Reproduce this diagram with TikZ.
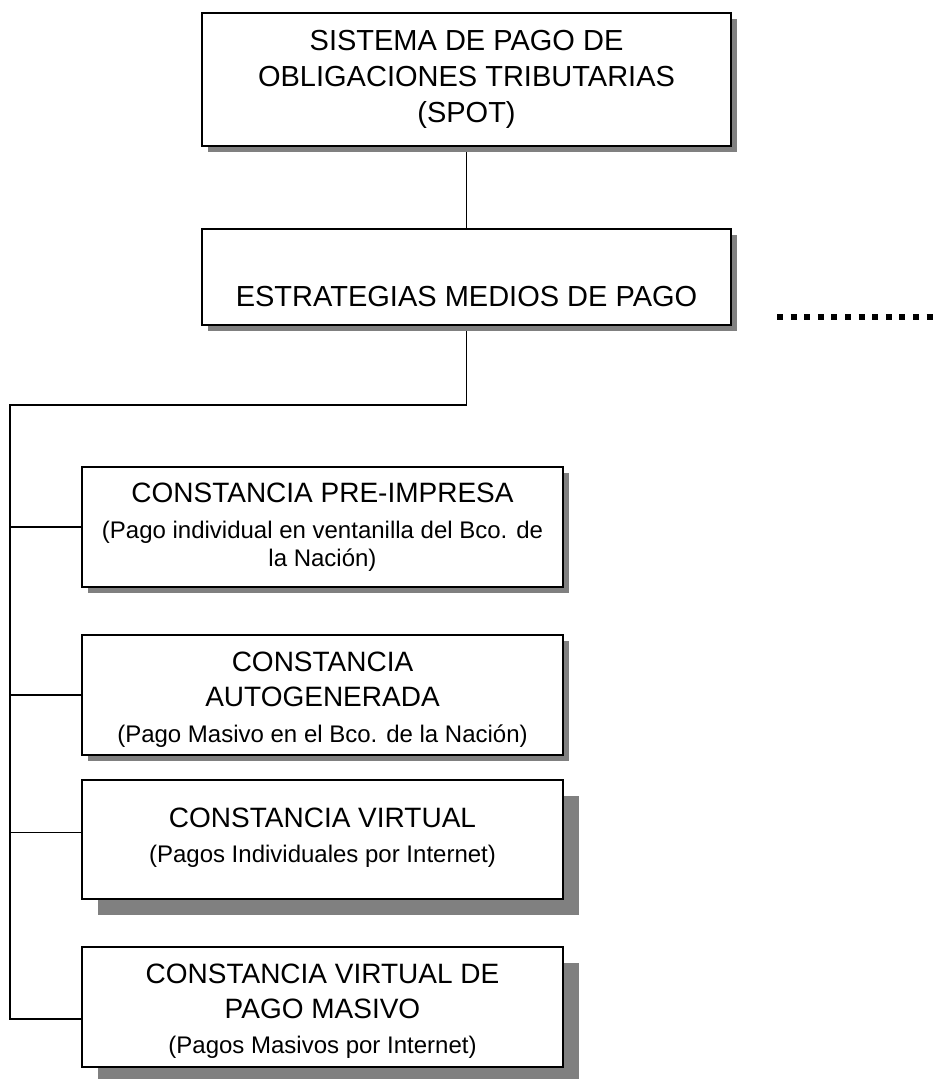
\documentclass[tikz,border=0pt]{standalone}
\usepackage{fontspec}
\setmainfont{Liberation Sans}
\usetikzlibrary{shadows,backgrounds,calc}
\definecolor{shadowgray}{RGB}{128,128,128}
\newcommand\subline[1]{{\fontsize{24}{28}\selectfont #1}}
\begin{document}
\begin{tikzpicture}[x=1pt,y=-1pt,
  boxbase/.style={draw=black, line width=1.8pt, fill=white, inner sep=0pt, align=center,
    minimum width=481pt, minimum height=120pt, font=\fontsize{28}{35}\selectfont},
  boxtext/.style={inner sep=0pt, align=center, font=\fontsize{28}{35}\selectfont},
  smallshadow/.style={drop shadow={shadow xshift=6pt, shadow yshift=-6pt, fill=shadowgray, opacity=1}},
  bigshadow/.style={drop shadow={shadow xshift=16pt, shadow yshift=-16pt, fill=shadowgray, opacity=1}},
  link/.style={line width=1.9pt, line cap=rect, draw=black},
  dotline/.style={line width=6pt, dash pattern=on 6pt off 7.6pt, draw=black}]
\useasboundingbox (0,0) rectangle (939,1079);

\node[boxbase, smallshadow, minimum width=529pt, minimum height=133pt, font=\fontsize{29}{36}\selectfont] (b1) at (466.5,79.5)
  {SISTEMA DE PAGO DE\\OBLIGACIONES TRIBUTARIAS\\(SPOT)};
\node[boxbase, smallshadow, minimum width=529pt, minimum height=96pt] (b2) at (466.5,277) {};
\node[boxtext, font=\fontsize{29}{36}\selectfont] (t2) at (466.5,297) {ESTRATEGIAS MEDIOS DE PAGO};

\node[boxbase, smallshadow] (b3) at (322.5,527)
  {CONSTANCIA PRE-IMPRESA\\[1pt]\subline{(Pago individual en ventanilla del Bco. de}\\[-7pt]\subline{la Nación)}};

\node[boxbase, smallshadow] (b4) at (322.5,695) {};
\node[boxtext] (t4) at (322.5,700)
  {CONSTANCIA\\AUTOGENERADA\\[1pt]\subline{(Pago Masivo en el Bco. de la Nación)}};

\node[boxbase, bigshadow, minimum height=119pt] (b5) at (322.5,839.5) {};
\node[boxtext] (t5) at (322.5,837.5)
  {CONSTANCIA VIRTUAL\\[0pt]\subline{(Pagos Individuales por Internet)}};

\node[boxbase, bigshadow] (b6) at (322.5,1007) {};
\node[boxtext] (t6) at (322.5,1011.5)
  {CONSTANCIA VIRTUAL DE\\PAGO MASIVO\\\subline{(Pagos Masivos por Internet)}};

\coordinate (j1) at (466.5,405);
\coordinate (j2) at (10,405);
\coordinate (j3) at (10,1019);
\coordinate (br5) at ($(b5.west)+(0,-7)$);
\coordinate (d1) at (777,317);
\coordinate (d2) at (933,317);

\begin{scope}[on background layer]
\fill[white] (0,0) rectangle (939,1079);
\draw[link] (b1.south) -- (b2.north);
\draw[link] (b2.south) -- (j1) -- (j2) -- (j3) -- (j3 -| b6.west);
\draw[link] (j2 |- b3.west) -- (b3.west);
\draw[link] (j2 |- b4.west) -- (b4.west);
\draw[link] (j2 |- br5) -- (br5);
\end{scope}

\draw[dotline] (d1) -- (d2);
\end{tikzpicture}
\end{document}
